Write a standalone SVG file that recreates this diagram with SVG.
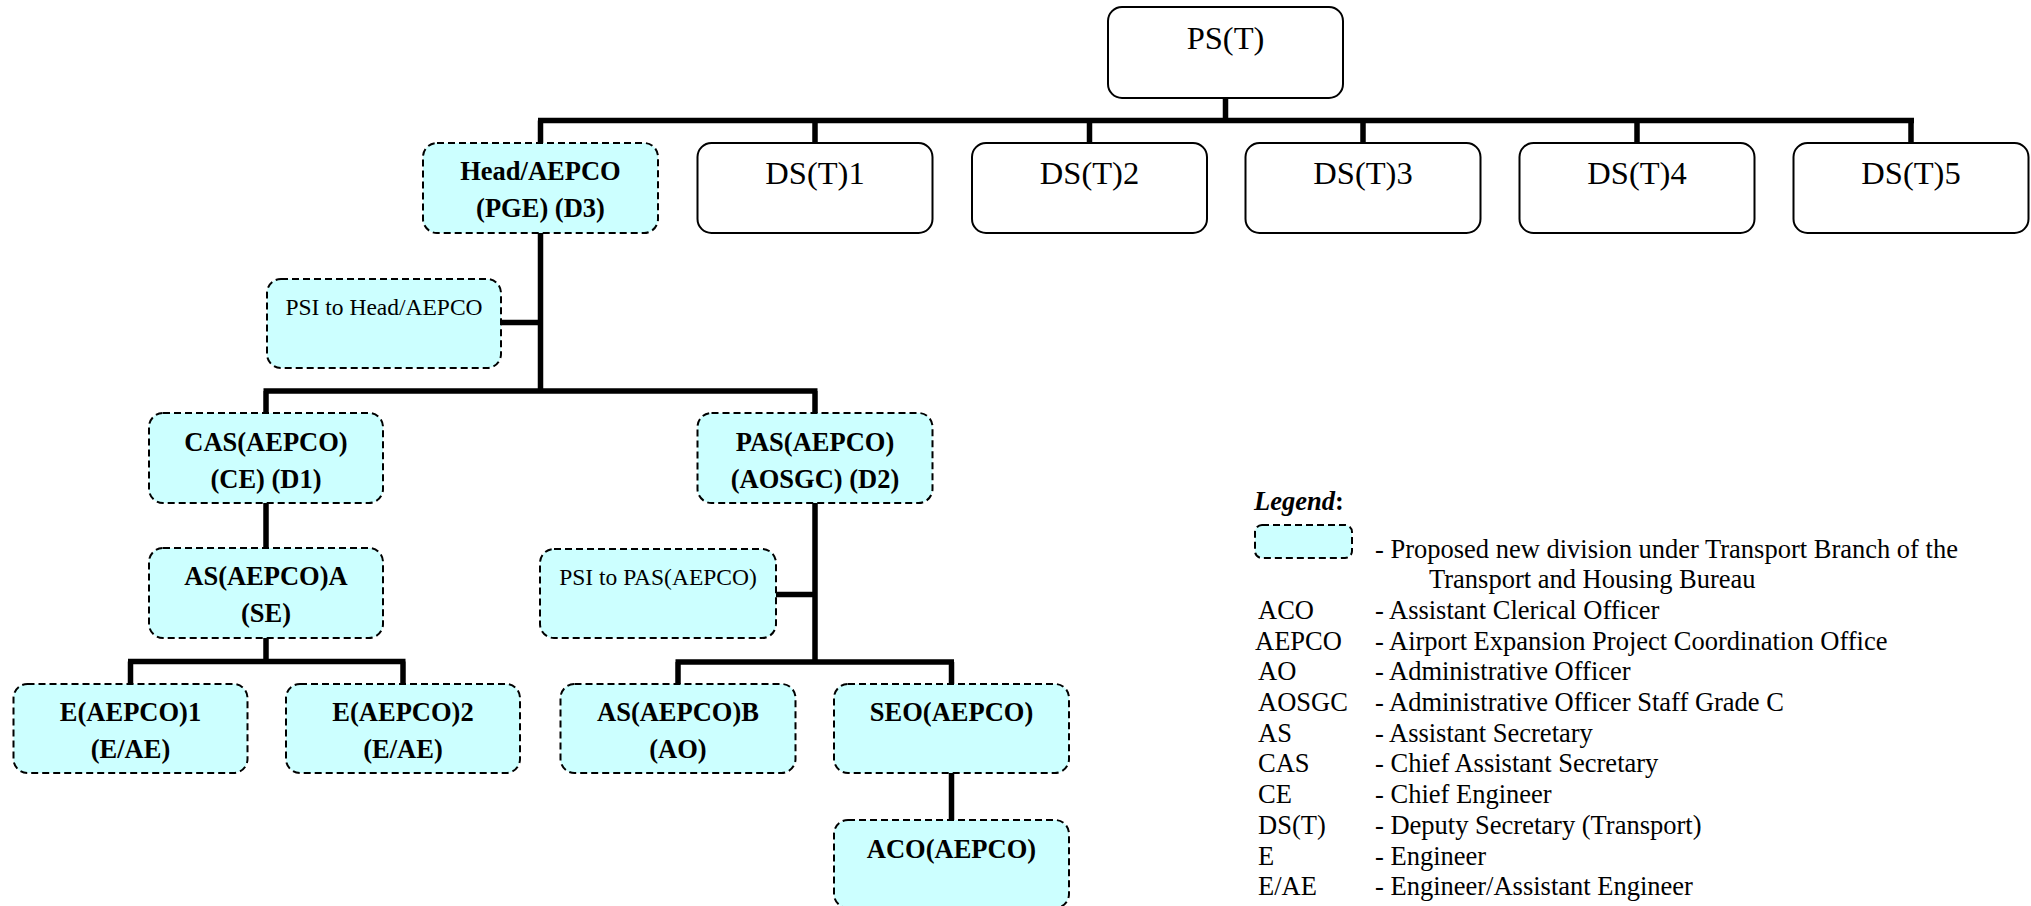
<svg xmlns="http://www.w3.org/2000/svg" width="2031" height="906" viewBox="0 0 2031 906">
<style>
.solid{fill:#fff;stroke:#000;stroke-width:2}
.dash{fill:#CCFFFF;stroke:#000;stroke-width:2;stroke-dasharray:7 4}
.big{font-family:"Liberation Serif","Times New Roman",serif;font-size:32.5px;fill:#000;text-anchor:middle}
.bold{font-family:"Liberation Serif","Times New Roman",serif;font-size:26.5px;font-weight:bold;fill:#000;text-anchor:middle}
.reg{font-family:"Liberation Serif","Times New Roman",serif;font-size:23.5px;fill:#000;text-anchor:middle}
.leg{font-family:"Liberation Serif","Times New Roman",serif;font-size:26.5px;fill:#000}
.conn{fill:none;stroke:#000;stroke-width:5.5}
</style>
<rect width="2031" height="906" fill="#fff"/>
<g id="connectors">
<path class="conn" d="M1225.5 98V120.5M538 120.5H1914M540.5 120.5V143M815 120.5V143M1089.5 120.5V143M1363 120.5V143M1637 120.5V143M1911 120.5V143"/>
<path class="conn" d="M540.5 233V391M501 322.5H540.5M263.5 391H817.5M266 391V413M815 391V413"/>
<path class="conn" d="M266 503V548M266 638V661.5M128 661.5H405.5M130.5 661.5V684M403 661.5V684"/>
<path class="conn" d="M815 503V662M776 594.5H815M675.5 662H954M678 662V684M951.5 662V684M951.5 773V820"/>
</g>
<g id="ps"><rect class="solid" x="1108" y="7" width="235" height="91" rx="14"/><text class="big" x="1225.5" y="49">PS(T)</text></g>
<g id="ds1"><rect class="solid" x="697.5" y="143" width="235" height="90" rx="14"/><text class="big" x="815" y="184">DS(T)1</text></g>
<g id="ds2"><rect class="solid" x="972" y="143" width="235" height="90" rx="14"/><text class="big" x="1089.5" y="184">DS(T)2</text></g>
<g id="ds3"><rect class="solid" x="1245.5" y="143" width="235" height="90" rx="14"/><text class="big" x="1363" y="184">DS(T)3</text></g>
<g id="ds4"><rect class="solid" x="1519.5" y="143" width="235" height="90" rx="14"/><text class="big" x="1637" y="184">DS(T)4</text></g>
<g id="ds5"><rect class="solid" x="1793.5" y="143" width="235" height="90" rx="14"/><text class="big" x="1911" y="184">DS(T)5</text></g>
<g id="head"><rect class="dash" x="423" y="143" width="235" height="90" rx="14"/><text class="bold" x="540.5" y="180">Head/AEPCO</text><text class="bold" x="540.5" y="217">(PGE) (D3)</text></g>
<g id="psi-head"><rect class="dash" x="267" y="279" width="234" height="89" rx="14"/><text class="reg" x="384" y="315">PSI to Head/AEPCO</text></g>
<g id="cas"><rect class="dash" x="149" y="413" width="234" height="90" rx="14"/><text class="bold" x="266" y="451">CAS(AEPCO)</text><text class="bold" x="266" y="488">(CE) (D1)</text></g>
<g id="pas"><rect class="dash" x="697.5" y="413" width="235" height="90" rx="14"/><text class="bold" x="815" y="451">PAS(AEPCO)</text><text class="bold" x="815" y="488">(AOSGC) (D2)</text></g>
<g id="asa"><rect class="dash" x="149" y="548" width="234" height="90" rx="14"/><text class="bold" x="266" y="585">AS(AEPCO)A</text><text class="bold" x="266" y="622">(SE)</text></g>
<g id="psi-pas"><rect class="dash" x="540" y="549" width="236" height="89" rx="14"/><text class="reg" x="658" y="585">PSI to PAS(AEPCO)</text></g>
<g id="e1"><rect class="dash" x="13.5" y="684" width="234" height="89" rx="14"/><text class="bold" x="130.5" y="721">E(AEPCO)1</text><text class="bold" x="130.5" y="758">(E/AE)</text></g>
<g id="e2"><rect class="dash" x="286" y="684" width="234" height="89" rx="14"/><text class="bold" x="403" y="721">E(AEPCO)2</text><text class="bold" x="403" y="758">(E/AE)</text></g>
<g id="asb"><rect class="dash" x="560.5" y="684" width="235" height="89" rx="14"/><text class="bold" x="678" y="721">AS(AEPCO)B</text><text class="bold" x="678" y="758">(AO)</text></g>
<g id="seo"><rect class="dash" x="834" y="684" width="235" height="89" rx="14"/><text class="bold" x="951.5" y="721">SEO(AEPCO)</text></g>
<g id="aco"><rect class="dash" x="834" y="820" width="235" height="88" rx="14"/><text class="bold" x="951.5" y="858">ACO(AEPCO)</text></g>
<g id="legend">
<text class="leg" x="1254" y="510" font-weight="bold"><tspan font-style="italic">Legend</tspan>:</text>
<rect class="dash" x="1255" y="525" width="97" height="33" rx="7"/>
<text class="leg" x="1375" y="558">- Proposed new division under Transport Branch of the</text>
<text class="leg" x="1429" y="588">Transport and Housing Bureau</text>
<text class="leg" x="1258" y="619">ACO</text><text class="leg" x="1375" y="619">- Assistant Clerical Officer</text>
<text class="leg" x="1255" y="650">AEPCO</text><text class="leg" x="1375" y="650">- Airport Expansion Project Coordination Office</text>
<text class="leg" x="1258" y="680">AO</text><text class="leg" x="1375" y="680">- Administrative Officer</text>
<text class="leg" x="1258" y="711">AOSGC</text><text class="leg" x="1375" y="711">- Administrative Officer Staff Grade C</text>
<text class="leg" x="1258" y="742">AS</text><text class="leg" x="1375" y="742">- Assistant Secretary</text>
<text class="leg" x="1258" y="772">CAS</text><text class="leg" x="1375" y="772">- Chief Assistant Secretary</text>
<text class="leg" x="1258" y="803">CE</text><text class="leg" x="1375" y="803">- Chief Engineer</text>
<text class="leg" x="1258" y="834">DS(T)</text><text class="leg" x="1375" y="834">- Deputy Secretary (Transport)</text>
<text class="leg" x="1258" y="865">E</text><text class="leg" x="1375" y="865">- Engineer</text>
<text class="leg" x="1258" y="895">E/AE</text><text class="leg" x="1375" y="895">- Engineer/Assistant Engineer</text>
</g>
</svg>
